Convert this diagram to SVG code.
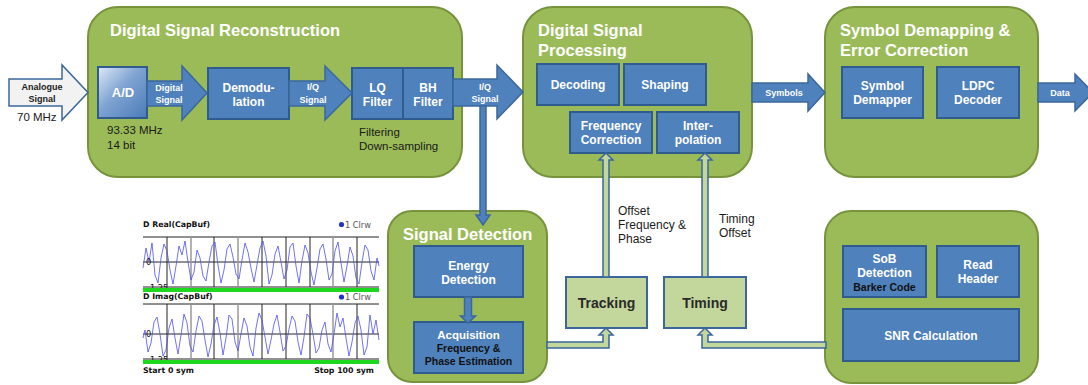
<svg xmlns="http://www.w3.org/2000/svg" xmlns:xlink="http://www.w3.org/1999/xlink" width="1088" height="385" viewBox="0 0 1088 385">
  <style>
    .stage { fill: #9bbb59; stroke: #77933c; stroke-width: 2; }
    .block { fill: #4f81bd; stroke: #2f5b8e; stroke-width: 2; }
    .loop  { fill: #c3d69b; stroke: #3b679c; stroke-width: 2; }
    .barrow { fill: #4f81bd; stroke: #3b679c; stroke-width: 1.5; stroke-linejoin: miter; }
    .garrow { fill: #c3d69b; stroke: #3b679c; stroke-width: 1.5; stroke-linejoin: miter; }
    text { font-family: "Liberation Sans", Arial, sans-serif; }
    .title { font-size: 16.5px; font-weight: bold; fill: #ffffff; }
    .lbl { font-size: 12px; font-weight: bold; fill: #ffffff; text-anchor: middle; }
    .albl { font-size: 9px; font-weight: bold; fill: #ffffff; text-anchor: middle; }
    .sub { font-size: 10.5px; font-weight: bold; fill: #111111; text-anchor: middle; }
    .note { font-size: 11.5px; fill: #1a1a1a; }
    .est { font-size: 14px; font-weight: bold; fill: #2a2a2a; text-anchor: middle; }
    .plt { font-family: "DejaVu Sans", Verdana, sans-serif; font-size: 7.8px; font-weight: bold; fill: #111111; }
    .pltr { font-family: "DejaVu Sans", Verdana, sans-serif; font-size: 8.2px; fill: #555555; }
    .grid { stroke: #222222; stroke-width: 1; }
    .gridg { stroke: #999999; stroke-width: 1.5; }
    .bar { fill: #1ed81e; }
  </style>
  <defs>
    <linearGradient id="adGrad" x1="0" y1="0" x2="1" y2="1">
      <stop offset="0" stop-color="#dfe9f6"/>
      <stop offset="0.45" stop-color="#7fa3d2"/>
      <stop offset="1" stop-color="#4a7bb8"/>
    </linearGradient>
    <!-- captured baseband samples, drawn once and mirrored for the Q channel -->
    <polyline id="wave" fill="none" stroke="#4f4ff2" stroke-opacity="0.8" stroke-width="1" stroke-linejoin="round" points="143,268 146,248 149,262 152,243 155,275 158,283 161,258 164,244 167,251 170,270 173,284 176,266 179,246 182,255 185,241 188,262 191,280 194,272 197,250 200,258 203,276 206,281 209,262 212,246 215,242 218,265 221,283 224,270 227,249 230,244 233,257 236,274 239,279 242,260 245,243 248,252 251,268 254,282 257,265 260,248 263,241 266,256 269,284 272,275 275,254 278,246 281,262 284,279 287,270 290,247 293,243 296,266 299,283 302,261 305,245 308,253 311,272 314,285 317,268 320,249 323,244 326,259 329,280 332,274 335,251 338,242 341,263 344,282 347,266 350,247 353,256 356,278 359,284 362,262 365,245 368,250 371,271 374,280 377,258 379,266"/>
  </defs>

  <rect width="1088" height="385" fill="#ffffff"/>

  <!-- Stage: digital signal reconstruction -->
  <g id="reconstruction">
    <rect class="stage" x="88" y="7" width="374" height="170" rx="30"/>
    <text class="title" x="110" y="36">Digital Signal Reconstruction</text>
    <text class="note" x="107" y="134">93.33 MHz</text>
    <text class="note" x="107" y="149">14 bit</text>
    <text class="note" x="359" y="136">Filtering</text>
    <text class="note" x="359" y="150">Down-sampling</text>
  </g>
  <g id="ad">
    <rect x="98" y="67" width="49" height="51" fill="url(#adGrad)" stroke="#2f5b8e" stroke-width="2"/>
    <text class="lbl" x="123" y="97" style="font-size:13px">A/D</text>
  </g>
  <g id="demodulation">
    <rect class="block" x="208" y="68" width="81" height="51"/>
    <text class="lbl" x="248.5" y="92">Demodu-</text>
    <text class="lbl" x="248.5" y="106">lation</text>
  </g>
  <g id="lq-filter">
    <rect class="block" x="352" y="68" width="51" height="51"/>
    <text class="lbl" x="377.5" y="92">LQ</text>
    <text class="lbl" x="377.5" y="106">Filter</text>
  </g>
  <g id="bh-filter">
    <rect class="block" x="403" y="68" width="50" height="51"/>
    <text class="lbl" x="428" y="92">BH</text>
    <text class="lbl" x="428" y="106">Filter</text>
  </g>

  <!-- Stage: digital signal processing -->
  <g id="processing">
    <rect class="stage" x="523" y="7" width="229" height="170" rx="30"/>
    <text class="title" x="538" y="36">Digital Signal</text>
    <text class="title" x="538" y="56">Processing</text>
  </g>
  <g id="decoding">
    <rect class="block" x="537" y="64" width="82" height="41"/>
    <text class="lbl" x="578" y="89">Decoding</text>
  </g>
  <g id="shaping">
    <rect class="block" x="624" y="64" width="82" height="41"/>
    <text class="lbl" x="665" y="89">Shaping</text>
  </g>
  <g id="freq-correction">
    <rect class="block" x="570" y="112" width="82" height="41"/>
    <text class="lbl" x="611" y="130">Frequency</text>
    <text class="lbl" x="611" y="144">Correction</text>
  </g>
  <g id="interpolation">
    <rect class="block" x="657" y="112" width="82" height="41"/>
    <text class="lbl" x="698" y="130">Inter-</text>
    <text class="lbl" x="698" y="144">polation</text>
  </g>

  <!-- Stage: symbol demapping and error correction -->
  <g id="demapping">
    <rect class="stage" x="825" y="7" width="213" height="170" rx="30"/>
    <text class="title" x="840" y="36">Symbol Demapping &amp;</text>
    <text class="title" x="840" y="56">Error Correction</text>
  </g>
  <g id="symbol-demapper">
    <rect class="block" x="842" y="67" width="81" height="51"/>
    <text class="lbl" x="882.5" y="90">Symbol</text>
    <text class="lbl" x="882.5" y="104">Demapper</text>
  </g>
  <g id="ldpc">
    <rect class="block" x="937" y="67" width="82" height="51"/>
    <text class="lbl" x="978" y="90">LDPC</text>
    <text class="lbl" x="978" y="104">Decoder</text>
  </g>

  <!-- Stage: signal detection -->
  <g id="detection">
    <rect class="stage" x="388" y="211" width="159" height="171" rx="24"/>
    <text class="title" x="403" y="240">Signal Detection</text>
  </g>
  <g id="energy">
    <rect class="block" x="414" y="246" width="109" height="51"/>
    <text class="lbl" x="468.5" y="270">Energy</text>
    <text class="lbl" x="468.5" y="284">Detection</text>
  </g>
  <g id="acquisition">
    <rect class="block" x="414" y="322" width="109" height="51"/>
    <text class="lbl" x="468.5" y="339" style="font-size:11.5px">Acquisition</text>
    <text class="sub" x="468.5" y="352">Frequency &amp;</text>
    <text class="sub" x="468.5" y="365">Phase Estimation</text>
  </g>

  <!-- Estimators -->
  <g id="tracking">
    <rect class="loop" x="566" y="277" width="81" height="51"/>
    <text class="est" x="606.5" y="308">Tracking</text>
  </g>
  <g id="timing">
    <rect class="loop" x="664" y="277" width="82" height="51"/>
    <text class="est" x="705" y="308">Timing</text>
  </g>

  <!-- Stage: frame synchronisation -->
  <g id="frame-sync">
    <rect class="stage" x="825" y="211" width="213" height="172" rx="26"/>
  </g>
  <g id="sob">
    <rect class="block" x="843" y="246" width="83" height="51"/>
    <text class="lbl" x="884.5" y="263">SoB</text>
    <text class="lbl" x="884.5" y="277">Detection</text>
    <text class="sub" x="884.5" y="291">Barker Code</text>
  </g>
  <g id="read-header">
    <rect class="block" x="937" y="246" width="82" height="51"/>
    <text class="lbl" x="978" y="269">Read</text>
    <text class="lbl" x="978" y="283">Header</text>
  </g>
  <g id="snr">
    <rect class="block" x="843" y="309" width="176" height="52"/>
    <text class="lbl" x="931" y="340">SNR Calculation</text>
  </g>

  <!-- Captured I/Q buffer plots -->
  <g id="capture-plot">
    <text class="plt" x="143" y="227">D Real(CapBuf)</text>
    <circle cx="341.5" cy="224.5" r="2.6" fill="#2233cc"/>
    <text class="pltr" x="345" y="227.5">1 Clrw</text>
    <line class="grid" x1="143" y1="237" x2="379" y2="237"/>
    <line class="grid" x1="143" y1="262" x2="379" y2="262"/>
    <line class="grid" x1="143" y1="287" x2="379" y2="287"/>
    <line class="grid" x1="167" y1="237" x2="167" y2="287"/>
    <line class="gridg" x1="191" y1="237" x2="191" y2="287"/>
    <line class="grid" x1="214" y1="237" x2="214" y2="287"/>
    <line class="gridg" x1="238" y1="237" x2="238" y2="287"/>
    <line class="grid" x1="262" y1="237" x2="262" y2="287"/>
    <line class="grid" x1="286" y1="237" x2="286" y2="287"/>
    <line class="grid" x1="310" y1="237" x2="310" y2="287"/>
    <line class="gridg" x1="333" y1="237" x2="333" y2="287"/>
    <line class="grid" x1="357" y1="237" x2="357" y2="287"/>
    <use xlink:href="#wave"/>
    <text class="pltr" x="146" y="265" style="fill:#111">0</text>
    <text class="pltr" x="147" y="291" style="fill:#111">-1.25</text>
    <rect class="bar" x="143" y="288" width="236" height="4"/>

    <text class="plt" x="143" y="299">D Imag(CapBuf)</text>
    <circle cx="341.5" cy="297" r="2.6" fill="#2233cc"/>
    <text class="pltr" x="345" y="300">1 Clrw</text>
    <line class="grid" x1="143" y1="304" x2="379" y2="304"/>
    <line class="grid" x1="143" y1="334" x2="379" y2="334"/>
    <line class="grid" x1="143" y1="359" x2="379" y2="359"/>
    <line class="grid" x1="167" y1="304" x2="167" y2="359"/>
    <line class="gridg" x1="191" y1="304" x2="191" y2="359"/>
    <line class="grid" x1="214" y1="304" x2="214" y2="359"/>
    <line class="gridg" x1="238" y1="304" x2="238" y2="359"/>
    <line class="grid" x1="262" y1="304" x2="262" y2="359"/>
    <line class="grid" x1="286" y1="304" x2="286" y2="359"/>
    <line class="grid" x1="310" y1="304" x2="310" y2="359"/>
    <line class="gridg" x1="333" y1="304" x2="333" y2="359"/>
    <line class="grid" x1="357" y1="304" x2="357" y2="359"/>
    <use xlink:href="#wave" transform="translate(522,72) scale(-1,1)"/>
    <text class="pltr" x="146" y="337" style="fill:#111">0</text>
    <text class="pltr" x="147" y="363" style="fill:#111">-1.25</text>
    <rect class="bar" x="143" y="360" width="236" height="4"/>
    <text class="plt" x="143" y="373">Start 0 sym</text>
    <text class="plt" x="374" y="373" text-anchor="end">Stop 100 sym</text>
  </g>

  <!-- Connectors -->
  <g id="connectors">
    <!-- analogue input -->
    <polygon points="9,79 62,79 62,65 88,92.5 62,120 62,106 9,106" fill="#f2f2f2" stroke="#3b679c" stroke-width="1.5"/>
    <text x="42" y="90" style="font-size:9px;font-weight:bold;fill:#222;text-anchor:middle">Analogue</text>
    <text x="42" y="102" style="font-size:9px;font-weight:bold;fill:#222;text-anchor:middle">Signal</text>
    <text class="note" x="17" y="121">70 MHz</text>

    <!-- A/D to demodulation -->
    <polygon class="barrow" points="147,81 182,81 182,66 207,93 182,120 182,106 147,106"/>
    <text class="albl" x="169" y="91">Digital</text>
    <text class="albl" x="169" y="103">Signal</text>

    <!-- demodulation to filters -->
    <polygon class="barrow" points="289,81 325,81 325,66 352,93 325,120 325,106 289,106"/>
    <text class="albl" x="313" y="90">I/Q</text>
    <text class="albl" x="313" y="103">Signal</text>

    <!-- I/Q down to signal detection -->
    <polygon class="barrow" points="480,104 486,104 486,215 490,215 483,225 476,215 480,215"/>

    <!-- filters to processing -->
    <polygon class="barrow" points="453,79 497,79 497,65 523,92 497,119 497,106 453,106"/>
    <text class="albl" x="485" y="90">I/Q</text>
    <text class="albl" x="485" y="102">Signal</text>

    <!-- processing to demapping -->
    <polygon class="barrow" points="752,83 808,83 808,74 825,92.5 808,111 808,102 752,102"/>
    <text class="albl" x="784" y="96">Symbols</text>

    <!-- data out -->
    <polygon class="barrow" points="1038,83 1075,83 1075,74 1093,92.5 1075,111 1075,102 1038,102"/>
    <text class="albl" x="1060" y="96">Data</text>

    <!-- energy detection to acquisition -->
    <polygon class="barrow" points="464.5,297 471.5,297 471.5,316 475.5,316 468,323 460.5,316 464.5,316"/>

    <!-- acquisition to tracking -->
    <polygon class="garrow" points="547,342 603,342 603,335 599,335 606,328 613,335 609,335 609,348 547,348"/>
    <!-- tracking to frequency correction -->
    <polygon class="garrow" points="603,277 603,160 599,160 606,153 613,160 609,160 609,277"/>
    <text class="note" x="618" y="215" style="font-size:12px">Offset</text>
    <text class="note" x="618" y="229" style="font-size:12px">Frequency &amp;</text>
    <text class="note" x="618" y="243" style="font-size:12px">Phase</text>

    <!-- SNR stage to timing -->
    <polygon class="garrow" points="826,342 708,342 708,335 712,335 705,328 698,335 702,335 702,348 826,348"/>
    <!-- timing to interpolation -->
    <polygon class="garrow" points="702,277 702,160 698,160 705,153 712,160 708,160 708,277"/>
    <text class="note" x="719" y="223" style="font-size:12px">Timing</text>
    <text class="note" x="719" y="237" style="font-size:12px">Offset</text>
  </g>
</svg>
